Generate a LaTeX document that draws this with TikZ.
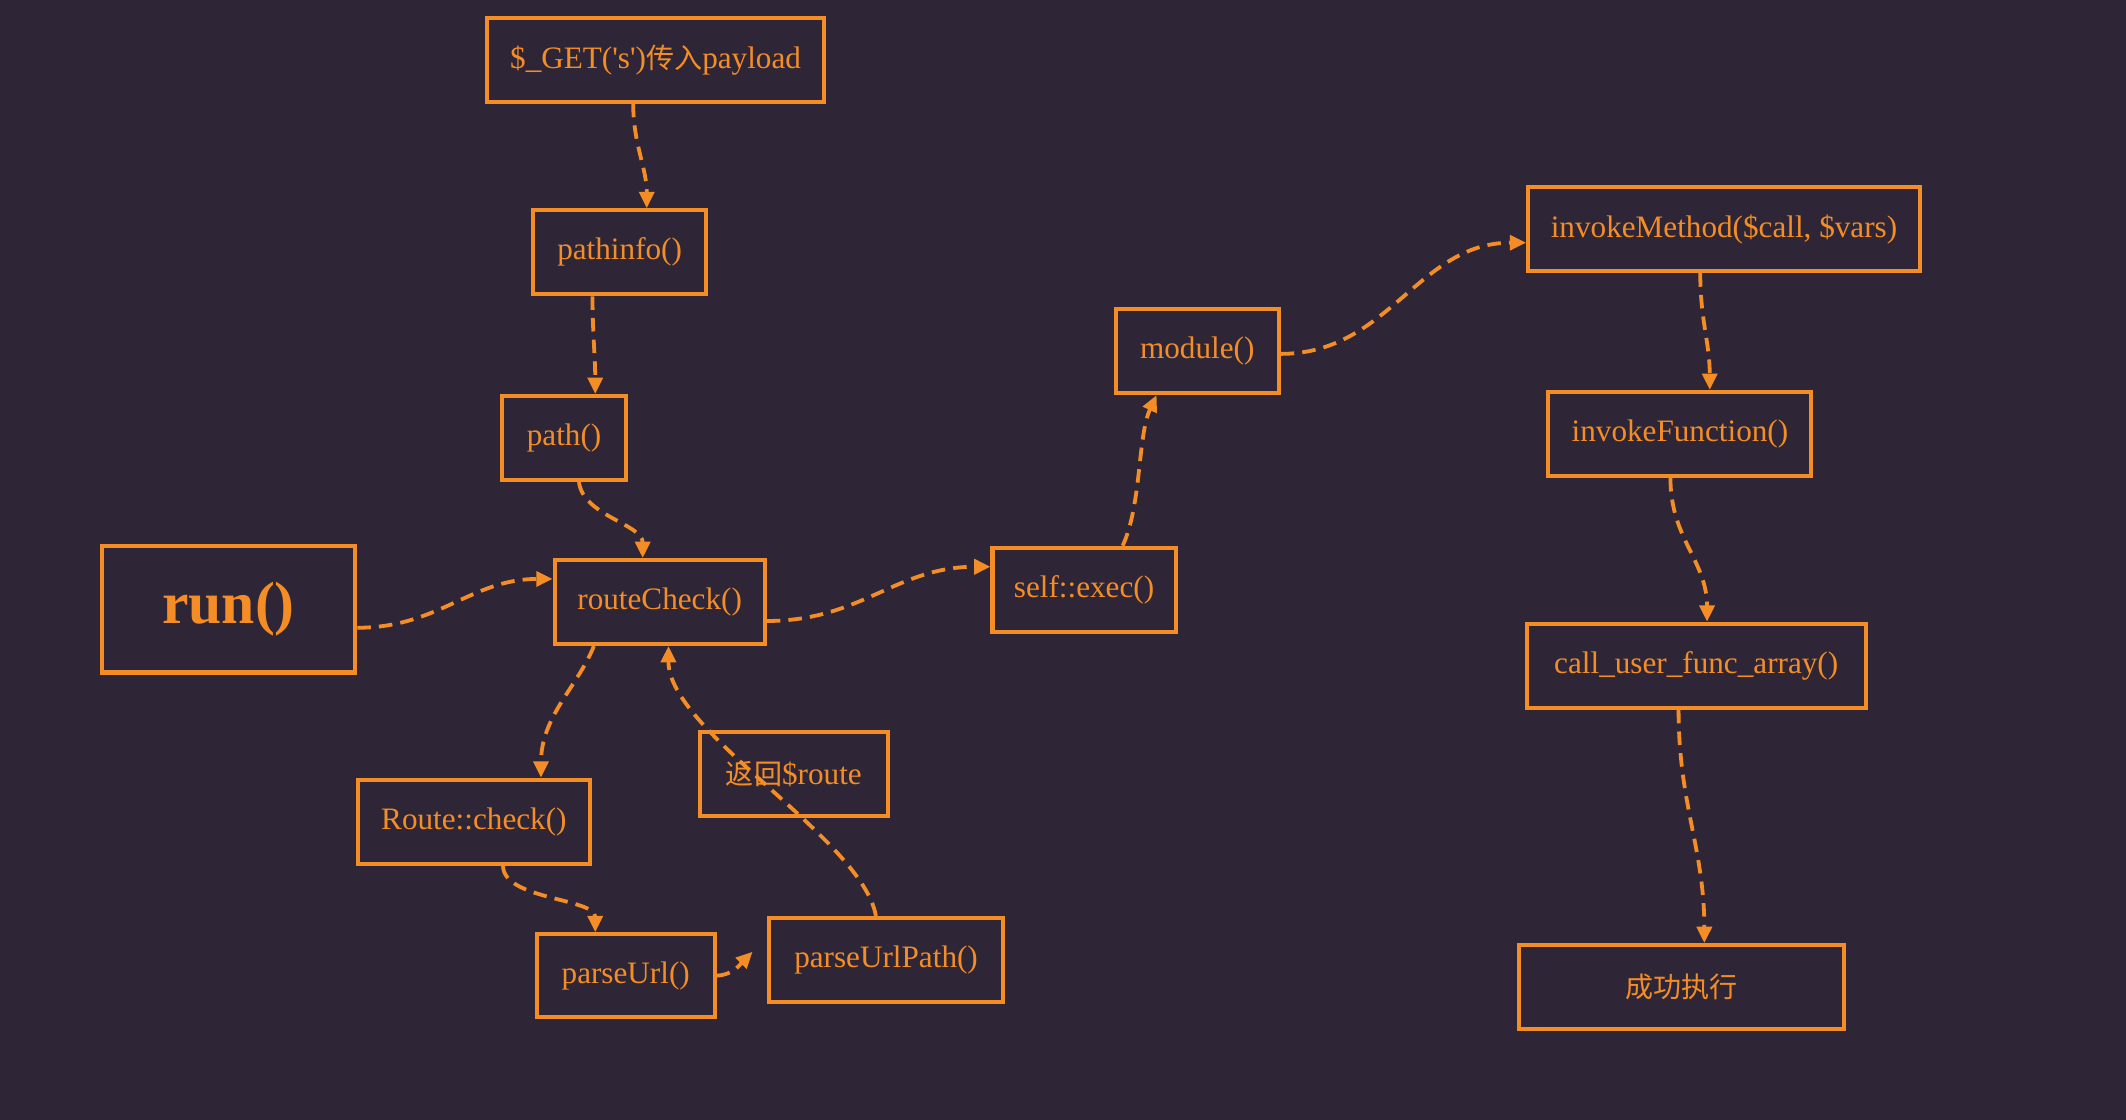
\documentclass[tikz,border=0pt]{standalone}
\usepackage{fontspec}
\setmainfont{Liberation Serif}[Ligatures=TeXOff]
\newfontfamily\cjk{Noto Sans CJK SC}[Scale=0.9]
\usetikzlibrary{arrows.meta}
\definecolor{bgc}{RGB}{46,38,54}
\definecolor{org}{RGB}{245,141,38}
\tikzset{
  box/.style={draw=org,line width=3pt,text=org,inner sep=0pt,minimum height=62pt},
  flow/.style={draw=org,line width=2.8pt,dash pattern=on 10pt off 6pt,-{Triangle[length=12pt,width=11pt]}}
}

\begin{document}
\begin{tikzpicture}[x=1pt,y=-1pt,font=\fontsize{23}{27}\selectfont]
                        \fill[bgc] (0,0) rectangle (1568,826);
                        \useasboundingbox (0,0) rectangle (1568,826);
                        \node[box,minimum width=249pt] (get) at (483.5,44) {\$\_GET('s'){\cjk 传入}payload};
                        \node[box,minimum width=128pt] (pinfo) at (457,186) {pathinfo()};
                        \node[box,minimum width=92pt] (path) at (416,323) {path()};
                        \node[box,minimum width=187pt,minimum height=93pt,font=\fontsize{44}{46}\selectfont\bfseries] (run) at (168.5,449.5) {run()};
                        \node[box,minimum width=155pt] (rchk) at (486.5,444) {routeCheck()};
                        \node[box,minimum width=135pt] (exec) at (799.5,435) {self::exec()};
                        \node[box,minimum width=120pt] (module) at (883,259) {module()};
                        \node[box,minimum width=289pt] (imeth) at (1271.5,169) {invokeMethod(\$call, \$vars)};
                        \node[box,minimum width=194pt] (ifunc) at (1239,320) {invokeFunction()};
                        \node[box,minimum width=250pt] (cufa) at (1251,491) {call\_user\_func\_array()};
                        \node[box,minimum width=240pt] (done) at (1240,728) {\cjk 成功执行};
                        \node[box,minimum width=171pt] (rtchk) at (349.5,606) {Route::check()};
                        \node[box,minimum width=139pt] (ret) at (585.5,571) {{\cjk 返回}\$route};
                        \node[box,minimum width=131pt,minimum height=61pt] (purl) at (461.5,719.5) {parseUrl()};
                        \node[box,minimum width=173pt] (purlp) at (653.5,708) {parseUrlPath()};
                        \coordinate (purlpin) at (555,702);
                        % main chain
                        \draw[flow] ([xshift=-16.5pt]get.south) .. controls +(0,30) and +(0,-30) .. ([xshift=20pt]pinfo.north);
                        \draw[flow] ([xshift=-20pt]pinfo.south) .. controls +(0,28) and +(0,-28) .. ([xshift=23pt]path.north);
                        \draw[flow] ([xshift=11pt]path.south) .. controls +(3,25) and +(0,-25) .. ([xshift=-12.5pt]rchk.north);
                        \draw[flow] ([yshift=-13.5pt]run.east) .. controls +(60,0) and +(-60,0) .. ([yshift=17pt]rchk.west);
                        \draw[flow] ([yshift=-14pt]rchk.east) .. controls +(70,0) and +(-70,0) .. ([yshift=17pt]exec.west);
                        \draw[flow] ([xshift=28.5pt]exec.north) .. controls +(14,-30) and +(-14,30) .. ([xshift=-30pt]module.south);
                        \draw[flow] ([yshift=-2pt]module.east) .. controls +(80,0) and +(-80,0) .. ([yshift=-10pt]imeth.west);
                        \draw[flow] ([xshift=-17.5pt]imeth.south) .. controls +(0,35) and +(0,-35) .. ([xshift=22pt]ifunc.north);
                        \draw[flow] ([xshift=-7pt]ifunc.south) .. controls +(0,45) and +(0,-45) .. ([xshift=8pt]cufa.north);
                        \draw[flow] ([xshift=-13pt]cufa.south) .. controls +(0,70) and +(0,-70) .. ([xshift=17pt]done.north);
                        % route check branch
                        \draw[flow] ([xshift=-48.5pt]rchk.south) .. controls +(-12,30) and +(0,-45) .. ([xshift=49.5pt]rtchk.north);
                        \draw[flow] ([xshift=21.5pt]rtchk.south) .. controls +(0,25) and +(0,-25) .. ([xshift=-22.5pt]purl.north);
                        \draw[flow] (purl.east) .. controls +(12,0) and +(-8,8) .. (purlpin);
                        \draw[flow] ([xshift=-7.5pt]purlp.north) .. controls +(-10,-57) and +(0,63) .. ([xshift=6.5pt]rchk.south);
                  \end{tikzpicture}
\end{document}
